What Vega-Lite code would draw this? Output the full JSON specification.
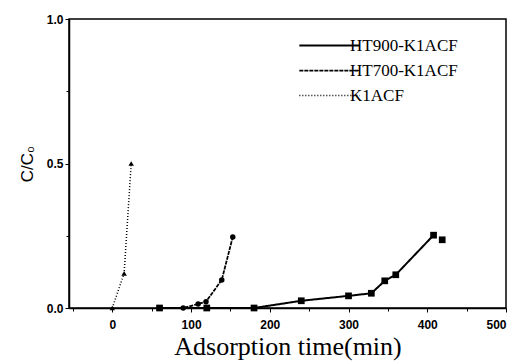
{
  "$schema": "https://vega.github.io/schema/vega-lite/v6.json",
  "width": 437,
  "height": 289,
  "autosize": {"type": "none"},
  "padding": {"left": 69, "top": 19, "right": 19, "bottom": 56},
  "background": "white",
  "config": {
    "view": {"stroke": "black", "strokeWidth": 1.5},
    "axis": {"domain": true, "domainColor": "black", "tickColor": "black", "domainWidth": 1.5, "tickWidth": 1, "grid": false,
      "labelFont": "Liberation Sans", "labelFontSize": 12, "labelFontWeight": "bold", "labelColor": "black", "titleColor": "black"}
  },
  "data": {"values": [
    {"series": "HT900-K1ACF", "t": 60, "c": 0},
    {"series": "HT900-K1ACF", "t": 120, "c": 0},
    {"series": "HT900-K1ACF", "t": 180, "c": 0},
    {"series": "HT900-K1ACF", "t": 240, "c": 0.025},
    {"series": "HT900-K1ACF", "t": 300, "c": 0.042},
    {"series": "HT900-K1ACF", "t": 329, "c": 0.051},
    {"series": "HT900-K1ACF", "t": 346, "c": 0.094},
    {"series": "HT900-K1ACF", "t": 360, "c": 0.115},
    {"series": "HT900-K1ACF", "t": 408, "c": 0.252},
    {"series": "HT900-K1ACF", "t": 419, "c": 0.236},
    {"series": "HT700-K1ACF", "t": 60, "c": 0},
    {"series": "HT700-K1ACF", "t": 90, "c": 0},
    {"series": "HT700-K1ACF", "t": 109, "c": 0.014},
    {"series": "HT700-K1ACF", "t": 119, "c": 0.022},
    {"series": "HT700-K1ACF", "t": 139, "c": 0.097},
    {"series": "HT700-K1ACF", "t": 153, "c": 0.246},
    {"series": "K1ACF", "t": 0, "c": 0},
    {"series": "K1ACF", "t": 15, "c": 0.12},
    {"series": "K1ACF", "t": 24, "c": 0.5}
  ]},
  "encoding": {
    "x": {"field": "t", "type": "quantitative",
      "scale": {"domain": [-55, 500], "nice": false, "zero": false},
      "axis": {"values": [-50, 0, 50, 100, 150, 200, 250, 300, 350, 400, 450, 500],
        "labelExpr": "datum.value % 100 === 0 ? datum.label : ''",
        "tickSize": {"condition": {"test": "datum.value % 100 === 0", "value": 4}, "value": 3},
        "labelPadding": 7,
        "title": "Adsorption time(min)", "titleFont": "Liberation Serif", "titleFontSize": 26, "titleFontWeight": "normal", "titlePadding": 3}},
    "y": {"field": "c", "type": "quantitative",
      "scale": {"domain": [0, 1], "nice": false},
      "axis": {"values": [0, 0.25, 0.5, 0.75, 1], "format": ".1f",
        "labelExpr": "datum.value * 2 % 1 === 0 ? datum.label : ''",
        "tickSize": {"condition": {"test": "datum.value * 2 % 1 === 0", "value": 4}, "value": 3},
        "labelPadding": 2,
        "title": "C/C₀", "titleFont": "Liberation Sans", "titleFontSize": 17, "titleFontWeight": "normal", "titlePadding": 10}}
  },
  "layer": [
    {
      "transform": [{"filter": "datum.t < 415"}],
      "mark": {"type": "line", "color": "black"},
      "encoding": {
        "strokeDash": {"field": "series", "type": "nominal",
          "scale": {"domain": ["HT900-K1ACF", "HT700-K1ACF", "K1ACF"], "range": [[1, 0], [4, 1], [1, 2]]},
          "legend": {"title": null, "orient": "none", "legendX": 252, "legendY": 18, "symbolType": "M-5.25,0H5.25", "symbolSize": 132,
            "symbolStrokeColor": "black", "symbolStrokeWidth": 1.5, "labelFont": "Liberation Serif", "labelFontSize": 17, "labelColor": "black", "rowPadding": 7, "labelOffset": 12}},
        "strokeWidth": {"field": "series", "type": "nominal",
          "scale": {"domain": ["HT900-K1ACF", "HT700-K1ACF", "K1ACF"], "range": [2, 1.5, 1.2]}, "legend": null}
      }
    },
    {
      "transform": [{"filter": "datum.series === 'HT900-K1ACF'"}],
      "mark": {"type": "point", "filled": true, "color": "black", "opacity": 1, "shape": "square", "size": 45}
    },
    {
      "transform": [{"filter": "datum.series === 'HT700-K1ACF'"}],
      "mark": {"type": "point", "filled": true, "color": "black", "opacity": 1, "shape": "circle", "size": 30}
    },
    {
      "transform": [{"filter": "datum.series === 'K1ACF'"}],
      "mark": {"type": "point", "filled": true, "color": "black", "opacity": 1, "shape": "triangle-up", "size": 30}
    }
  ]
}
